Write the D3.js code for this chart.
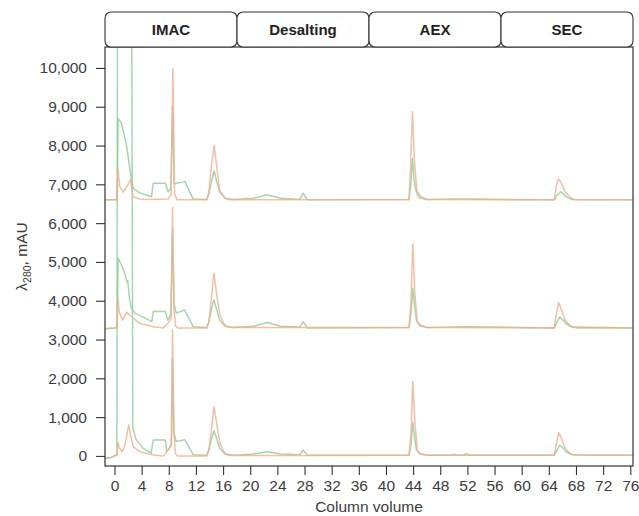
<!DOCTYPE html>
<html>
<head>
<meta charset="utf-8">
<script src="https://cdn.jsdelivr.net/npm/d3@7"></script>
<style>
  html, body { margin: 0; padding: 0; background: #fff; overflow: hidden; }
  #chart { width: 639px; height: 516px; }
  svg { display: block; font-family: 'Liberation Sans', Arial, sans-serif; }
  .trace { fill: none; stroke-width: 1.5; stroke-linejoin: round; stroke-opacity: 0.8; }
  .axis text { fill: #3c3c3c; font-size: 15.5px; }
  .axis line { stroke: #333; stroke-width: 1.1; }
</style>
</head>
<body>
<div id="chart"></div>
<script>
// purification steps shown in the strips
const steps = ['IMAC', 'Desalting', 'AEX', 'SEC'];

// tick values
const xTicks = [0, 4, 8, 12, 16, 20, 24, 28, 32, 36, 40, 44, 48, 52, 56, 60, 64, 68, 72, 76];
const yTicks = [0, 1000, 2000, 3000, 4000, 5000, 6000, 7000, 8000, 9000, 10000];

// traces: [column volume, mAU] (bottom, middle, top run)
const run1Orange = [[-1.4, -60], [-0.5, -40], [0.0, 0], [0.3, 20], [0.53, 340], [0.7, 200], [1.1, 110], [1.5, 250], [2.1, 800], [2.4, 500], [2.75, 240], [3.7, 110], [5.7, 26], [7.2, 0], [7.9, 150], [8.35, 300], [8.55, 3250], [8.75, 600], [9.0, 50], [9.3, 0], [13.6, 0], [13.9, 150], [14.3, 700], [14.65, 1270], [15.0, 900], [15.5, 350], [16.2, 80], [17, 10], [27.5, 10], [43.4, 20], [43.7, 600], [43.95, 1915], [44.25, 900], [44.6, 150], [45.0, 50], [46, 20], [64.8, 20], [65.1, 300], [65.45, 600], [65.8, 480], [66.4, 200], [67.2, 50], [68, 20], [76.4, 20]];
const run1Green = [[-1.4, -60], [-0.5, -40], [0.0, 0], [0.35, 30], [0.45, 14000], [2.5, 14000], [2.7, 700], [3.2, 420], [4.2, 200], [5.4, 70], [5.7, 410], [7.5, 410], [7.7, 110], [8.1, 200], [8.4, 280], [8.55, 2500], [8.75, 600], [9.1, 370], [10.35, 420], [11.6, 30], [13.6, 20], [13.9, 150], [14.3, 450], [14.65, 650], [15.0, 480], [15.5, 200], [16.3, 40], [17.5, 20], [20.5, 50], [22.5, 110], [24.5, 50], [27.3, 30], [27.8, 155], [28.4, 20], [43.4, 20], [43.7, 300], [43.95, 870], [44.2, 500], [44.5, 150], [45, 60], [46, 20], [49.5, 20], [50, 40], [50.5, 20], [51.5, 20], [51.8, 60], [52.3, 20], [64.8, 20], [65.2, 150], [65.6, 270], [66.0, 220], [66.6, 100], [67.4, 30], [76.4, 20]];

const run2Orange = [[-1.4, 3280], [0.3, 3300], [0.53, 4050], [0.7, 3700], [1.2, 3500], [1.8, 3700], [2.3, 3620], [3.7, 3420], [5.7, 3330], [7.2, 3300], [7.9, 3420], [8.35, 3550], [8.55, 6400], [8.75, 3800], [9.0, 3350], [9.3, 3300], [13.6, 3300], [13.9, 3450], [14.3, 4100], [14.65, 4710], [15.0, 4250], [15.5, 3650], [16.2, 3380], [17, 3310], [43.4, 3310], [43.7, 4000], [43.95, 5460], [44.25, 4200], [44.6, 3450], [45, 3350], [46, 3310], [64.8, 3300], [65.1, 3650], [65.45, 3950], [65.8, 3800], [66.4, 3500], [67.2, 3350], [68, 3300], [76.4, 3300]];
const run2Green = [[-1.4, 3280], [0.0, 3300], [0.4, 3320], [0.53, 5100], [1.03, 4920], [1.5, 4710], [1.85, 4480], [1.95, 4520], [2.2, 4060], [2.5, 3810], [3.0, 3680], [4.5, 3550], [5.5, 3460], [5.7, 3720], [7.5, 3720], [7.85, 3500], [8.3, 3650], [8.55, 5850], [8.8, 3900], [9.1, 3680], [10.35, 3760], [11.6, 3330], [13.6, 3310], [13.9, 3450], [14.3, 3800], [14.65, 4020], [15.0, 3800], [15.5, 3500], [16.3, 3340], [17.5, 3310], [20.5, 3340], [22.5, 3440], [24.5, 3340], [27.3, 3320], [27.8, 3460], [28.4, 3300], [43.4, 3310], [43.7, 3700], [43.95, 4320], [44.2, 3900], [44.5, 3500], [45, 3380], [46, 3310], [50, 3320], [51.8, 3330], [64.8, 3300], [65.2, 3450], [65.6, 3575], [66.0, 3520], [66.6, 3400], [67.4, 3320], [76.4, 3300]];

const run3Orange = [[-1.4, 6600], [0.3, 6600], [0.53, 7390], [0.75, 6950], [1.27, 6800], [1.7, 6900], [2.36, 7130], [2.74, 6680], [3.7, 6620], [5.2, 6610], [7.9, 6620], [8.35, 6750], [8.6, 9980], [8.85, 6750], [9.2, 6600], [13.6, 6600], [13.9, 6800], [14.3, 7500], [14.69, 8000], [15.1, 7400], [15.5, 6850], [16.3, 6640], [17, 6600], [43.4, 6610], [43.6, 7300], [43.9, 8870], [44.2, 7600], [44.6, 6720], [45, 6640], [46, 6610], [64.8, 6600], [65.1, 6950], [65.4, 7140], [65.8, 7050], [66.4, 6800], [67.3, 6640], [68, 6600], [76.4, 6600]];
const run3Green = [[-1.4, 6600], [0.4, 6600], [0.53, 8700], [1.03, 8570], [1.77, 8010], [2.36, 7290], [2.74, 6900], [3.73, 6780], [5.46, 6680], [5.69, 7030], [7.52, 7030], [7.91, 6810], [8.3, 6900], [8.55, 9000], [8.8, 7000], [9.14, 7030], [10.37, 7070], [11.59, 6620], [13.6, 6610], [13.9, 6750], [14.3, 7100], [14.69, 7345], [15.1, 7050], [15.5, 6800], [16.3, 6640], [17.5, 6610], [20.5, 6640], [22.4, 6730], [24.5, 6640], [27.3, 6610], [27.8, 6770], [28.4, 6600], [43.4, 6610], [43.65, 7000], [43.9, 7670], [44.15, 7100], [44.45, 6810], [44.7, 6790], [45.1, 6680], [46, 6610], [50, 6620], [52, 6620], [64.8, 6600], [65.2, 6720], [65.7, 6810], [66.1, 6760], [66.7, 6660], [67.5, 6610], [76.4, 6600]];

const greenColor = '#8ccc98';
const orangeColor = '#f3ae8e';

const traces = [
  { data: run1Green, color: greenColor },
  { data: run2Green, color: greenColor },
  { data: run3Green, color: greenColor },
  { data: run1Orange, color: orangeColor },
  { data: run2Orange, color: orangeColor },
  { data: run3Orange, color: orangeColor }
];

const width = 639;
const height = 516;
const margin = { top: 47, right: 6, bottom: 50, left: 105 };
const stripTop = 12;
const innerWidth = width - margin.left - margin.right;
const innerHeight = height - margin.top - margin.bottom;

const svg = d3.select('#chart')
  .append('svg')
  .attr('width', width)
  .attr('height', height);

const g = svg.append('g')
  .attr('transform', `translate(${margin.left}, ${margin.top})`);

// scales
const x = d3.scaleLinear().domain([-1.4, 76.4]).range([0, innerWidth]);
const y = d3.scaleLinear().domain([-260, 10540]).range([innerHeight, 0]);

// clip to the panel
g.append('clipPath')
  .attr('id', 'panel-clip')
  .append('rect')
  .attr('width', innerWidth)
  .attr('height', innerHeight);

const line = d3.line()
  .x(d => x(d[0]))
  .y(d => y(d[1]));

g.append('g')
  .attr('clip-path', 'url(#panel-clip)')
  .selectAll('.trace')
  .data(traces)
  .enter()
  .append('path')
  .attr('class', 'trace')
  .attr('d', d => line(d.data))
  .attr('stroke', d => d.color);

// panel border
g.append('rect')
  .attr('width', innerWidth)
  .attr('height', innerHeight)
  .attr('fill', 'none')
  .attr('stroke', '#333')
  .attr('stroke-width', 1.2);

// axes
const yAxis = g.append('g')
  .attr('class', 'axis')
  .call(d3.axisLeft(y).tickValues(yTicks).tickFormat(d3.format(',')).tickSize(9).tickPadding(9));
yAxis.select('.domain').remove();

const xAxis = g.append('g')
  .attr('class', 'axis')
  .attr('transform', `translate(0, ${innerHeight})`)
  .call(d3.axisBottom(x).tickValues(xTicks).tickSize(9).tickPadding(5));
xAxis.select('.domain').remove();

// strips
const stripW = innerWidth / steps.length;
const strips = svg.append('g')
  .selectAll('.strip')
  .data(steps)
  .enter()
  .append('g')
  .attr('class', 'strip')
  .attr('transform', (d, i) => `translate(${margin.left + i * stripW}, ${stripTop})`);

strips.append('rect')
  .attr('width', stripW)
  .attr('height', margin.top - stripTop)
  .attr('rx', 6)
  .attr('fill', '#fff')
  .attr('stroke', '#333')
  .attr('stroke-width', 1.1);

strips.append('text')
  .attr('x', stripW / 2)
  .attr('y', (margin.top - stripTop) / 2)
  .attr('dy', '0.36em')
  .attr('text-anchor', 'middle')
  .style('font-size', '15px')
  .style('font-weight', 'bold')
  .style('fill', '#222')
  .text(d => d);

// axis titles
svg.append('text')
  .attr('x', margin.left + innerWidth / 2)
  .attr('y', 512)
  .attr('text-anchor', 'middle')
  .style('font-size', '15.5px')
  .style('fill', '#3c3c3c')
  .text('Column volume');

const yTitle = svg.append('text')
  .attr('transform', `translate(27, ${margin.top + innerHeight / 2}) rotate(-90)`)
  .attr('text-anchor', 'middle')
  .style('font-size', '15.5px')
  .style('fill', '#3c3c3c');
yTitle.append('tspan').text('λ');
yTitle.append('tspan').attr('dy', '0.35em').style('font-size', '10.5px').text('280');
yTitle.append('tspan').attr('dy', '-0.25em').text(', mAU');
</script>
</body>
</html>
